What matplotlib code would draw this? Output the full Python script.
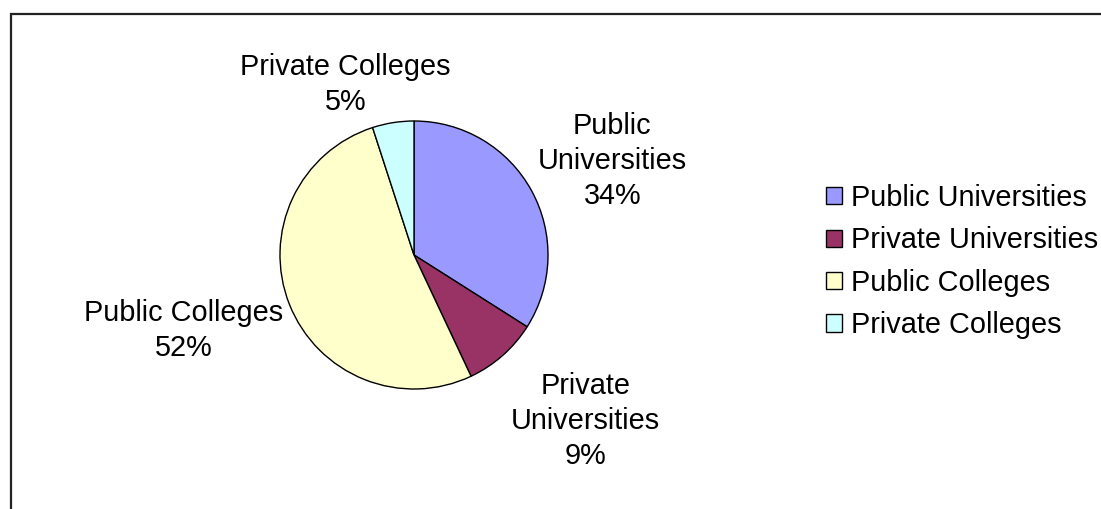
import matplotlib
matplotlib.use("Agg")
import matplotlib.pyplot as plt
from matplotlib.patches import Rectangle

# ----------------------
# DATA
# ----------------------

categories = ["Public Universities", "Private Universities",
              "Public Colleges", "Private Colleges"]
shares = [34, 9, 52, 5]
label_texts = ["Public\nUniversities\n34%", "Private\nUniversities\n9%",
               "Public Colleges\n52%", "Private Colleges\n5%"]

# ----------------------
# STYLE / LAYOUT
# ----------------------

colors = ["#9999FF", "#993366", "#FFFFCC", "#CCFFFF"]
W, H = 1101, 509
CENTER = (414, H - 255)
RADIUS = 134
# label centres, as offsets from the pie centre in pie radii
LABEL_OFFSETS = [(1.48, 0.70), (1.28, -1.24), (-1.72, -0.56), (-0.51, 1.27)]
FONT = "Liberation Sans"
FS = 20.8

plt.rcParams["font.family"] = [FONT, "DejaVu Sans"]

fig = plt.figure(figsize=(W / 100, H / 100), dpi=100)
ax = fig.add_axes([0, 0, 1, 1])

wedges, _ = ax.pie(shares, colors=colors, startangle=90, counterclock=False,
                   center=CENTER, radius=RADIUS,
                   wedgeprops=dict(edgecolor="black", linewidth=1.0))

for txt, (dx, dy) in zip(label_texts, LABEL_OFFSETS):
    ax.text(CENTER[0] + dx * RADIUS, CENTER[1] + dy * RADIUS, txt,
            ha="center", va="center", fontsize=FS, linespacing=1.32,
            multialignment="center")

# chart area border (runs off right / bottom edge)
ax.add_patch(Rectangle((10.5, -20), W + 50, H - 14 + 20, fill=False,
                       edgecolor="#222222", linewidth=1.6))

leg = ax.legend(wedges, categories, loc="upper left",
                bbox_to_anchor=(826, H - 184), bbox_transform=ax.transData,
                frameon=False, fontsize=FS, borderpad=0, borderaxespad=0,
                handlelength=0.55, handleheight=0.55, handletextpad=0.3,
                labelspacing=0.5)
for h in leg.legend_handles:
    h.set_edgecolor("black")
    h.set_linewidth(1.0)

ax.set_xlim(0, W)
ax.set_ylim(0, H)
ax.set_aspect("auto")
ax.axis("off")

fig.savefig("out.png", dpi=100)
